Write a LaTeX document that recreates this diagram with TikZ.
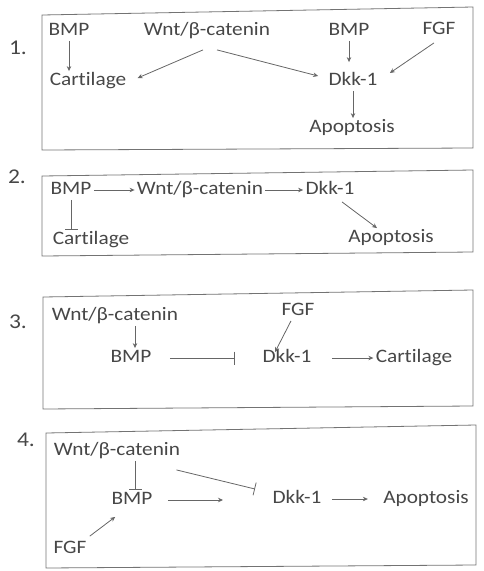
\documentclass[tikz,border=0pt]{standalone}
\usepackage{fontspec}
\setmainfont{Carlito}[FakeStretch=1.12,Ligatures=NoCommon]
\usetikzlibrary{arrows.meta,positioning}

\begin{document}
\begin{tikzpicture}[x=1pt,y=-1pt,line width=0.8pt,
	txt/.style={inner sep=2pt,text height=12pt,text depth=3pt,
	text=black!72,font=\fontsize{19}{22}\selectfont},
	num/.style={text=black!72,font=\fontsize{21}{24}\selectfont},
	frame/.style={draw=black!55},
	act/.style={draw=black!60,-{Stealth[length=5pt,width=4.5pt]}},
	inh/.style={draw=black!60,-{Bar[width=13pt]}}]
\useasboundingbox (0,0) rectangle (484,571);
\node [num] (n1) at (18,48) {1.};
\node [num] (n2) at (17,177) {2.};
\node [num] (n3) at (18,322) {3.};
\node [num] (n4) at (26,440) {4.};
\draw [frame] (42,15) -- (473,7) -- (473,148) -- (42,150) -- cycle;
\draw [frame] (42,176) -- (473,170) -- (473,252) -- (42,256) -- cycle;
\draw [frame] (43,297) -- (473,290) -- (473,406) -- (43,409) -- cycle;
\draw [frame] (46,433) -- (476,425) -- (476,565) -- (46,568) -- cycle;

\node [txt] (b1) at (69,31) {BMP};
\node [txt] (w1) at (207,31) {Wnt/β-catenin};
\node [txt] (b2) at (349,31) {BMP};
\node [txt] (f1) at (439,30) {FGF};
\node [txt] (c1) at (88,81) {Cartilage};
\node [txt] (d1) at (353,81) {Dkk-1};
\node [txt] (a1) at (352,128) {Apoptosis};
\draw [act] (b1.south) -- (b1.south |- c1.north);
\draw [act] ([xshift=-4pt,yshift=-9pt]w1.south) -- ([xshift=9pt,yshift=3pt]c1.east);
\draw [act] ([xshift=10pt,yshift=-9pt]w1.south) -- ([xshift=-8pt,yshift=5pt]d1.west);
\draw [act,shorten >=9pt] (b2.south) -- (b2.south |- d1.north);
\draw [act] ([xshift=-5pt,yshift=-3pt]f1.south) -- ([xshift=10pt,yshift=8pt]d1.east);
\draw [act] (d1.south) -- (d1.south |- a1.north);

\node [txt] (b3) at (71,190) {BMP};
\node [txt] (w3) at (200,190) {Wnt/β-catenin};
\node [txt] (d3) at (330,190) {Dkk-1};
\node [txt] (c3) at (91,240) {Cartilage};
\node [txt] (a3) at (391,238) {Apoptosis};
\draw [act] (b3) -- (w3);
\draw [act] (w3) -- (d3);
\draw [inh] (b3.south) -- (b3.south |- c3.north);
\draw [act] ([xshift=12pt,yshift=-2pt]d3.south) -- ([xshift=-14pt]a3.north);

\node [txt] (w5) at (115,316) {Wnt/β-catenin};
\node [txt] (b5) at (131,358) {BMP};
\node [txt] (f5) at (298,311) {FGF};
\node [txt] (d5) at (287,358) {Dkk-1};
\node [txt] (c5) at (414,358) {Cartilage};
\draw [act] ([xshift=4pt]b5.north |- w5.south) -- ([xshift=4pt]b5.north);
\draw [inh] ([xshift=16pt]b5.east) -- ([xshift=-25pt]d5.west);
\draw [act] ([xshift=-7pt]f5.south) -- ([xshift=-12pt,yshift=-4pt]d5.north);
\draw [act] ([xshift=18pt]d5.east) -- (c5.west);

\node [txt] (w7) at (117,451) {Wnt/β-catenin};
\node [txt] (b7) at (132,500) {BMP};
\node [txt] (d7) at (297,499) {Dkk-1};
\node [txt] (a7) at (426,499) {Apoptosis};
\node [txt] (f7) at (70,549) {FGF};
\coordinate (p7) at (223,500);
\coordinate (q7) at (255,489);
\draw [inh] ([xshift=3pt]b7.north |- w7.south) -- ([xshift=3pt]b7.north);
\draw [act] ([xshift=13pt]b7.east) -- (p7);
\draw [inh] ([xshift=-6pt,yshift=-9pt]w7.south east) -- (q7);
\draw [act] ([xshift=8pt]d7.east) -- ([xshift=-13pt]a7.west);
\draw [act] ([xshift=1pt,yshift=3pt]f7.north east) -- ([xshift=6pt,yshift=-7pt]b7.south west);
\end{tikzpicture}
\end{document}
